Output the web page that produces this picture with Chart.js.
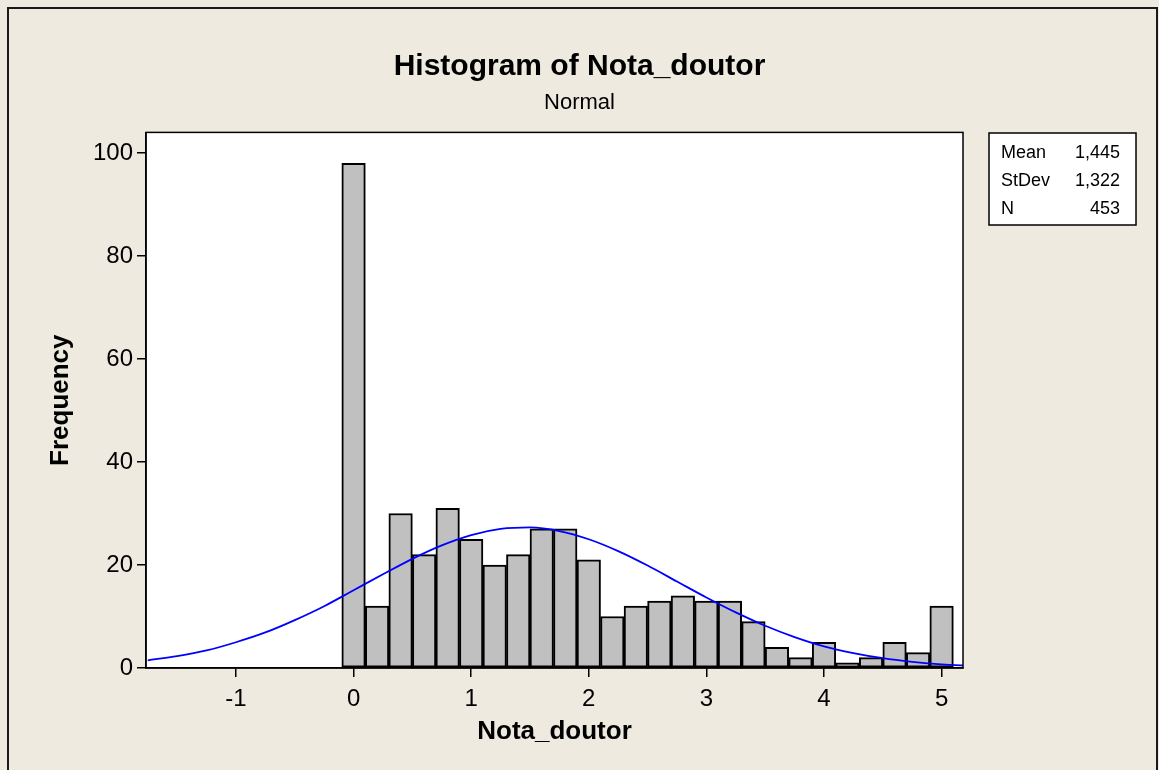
<!DOCTYPE html>
<html>
<head>
<meta charset="utf-8">
<title>Histogram of Nota_doutor</title>
<script src="https://cdn.jsdelivr.net/npm/chart.js@4/dist/chart.umd.min.js"></script>
<style>
  html, body { margin: 0; padding: 0; background: #EEEAE0; }
  #wrap { width: 1159px; height: 770px; }
</style>
</head>
<body>
<div id="wrap"><canvas id="myChart" width="1159" height="770"></canvas></div>
<script>
// histogram bins (width 0.2), counts
const binCenters = [0, 0.2, 0.4, 0.6, 0.8, 1.0, 1.2, 1.4, 1.6, 1.8, 2.0, 2.2, 2.4,
    2.6, 2.8, 3.0, 3.2, 3.4, 3.6, 3.8, 4.0, 4.2, 4.4, 4.6, 4.8, 5.0];
const frequencies = [98, 12, 30, 22, 31, 25, 20, 22, 27, 27, 21, 10, 12,
    13, 14, 13, 13, 9, 4, 2, 5, 1, 2, 5, 3, 12];

// fitted normal curve, read at 0.25 steps
const curveX = [-1.75, -1.5, -1.25, -1, -0.75, -0.5, -0.25, 0, 0.25, 0.5, 0.75, 1, 1.25,
    1.5, 1.75, 2, 2.25, 2.5, 2.75, 3, 3.25, 3.5, 3.75, 4, 4.25, 4.5, 4.75, 5, 5.25];
const curveY = [1.5, 2.3, 3.4, 5.0, 6.9, 9.3, 12.0, 15.1, 18.2, 21.2, 23.8, 25.8, 27.0,
    27.3, 26.6, 25.0, 22.7, 19.9, 16.8, 13.7, 10.8, 8.2, 6.0, 4.2, 2.9, 1.9, 1.2, 0.7, 0.45];

const xTicks = [-1, 0, 1, 2, 3, 4, 5];
const yTicks = [0, 20, 40, 60, 80, 100];

const statLabels = ['Mean', 'StDev', 'N'];
const statValues = ['1,445', '1,322', '453'];

const FONT = '"Liberation Sans", Arial, sans-serif';
const BG = '#EEEAE0';

const framePlugin = {
    id: 'frame',
    beforeDraw(chart) {
        const ctx = chart.ctx;
        const a = chart.chartArea;
        ctx.save();
        ctx.fillStyle = BG;
        ctx.fillRect(0, 0, chart.width, chart.height);
        // outer frame
        ctx.strokeStyle = '#1a1a1a';
        ctx.lineWidth = 2;
        ctx.beginPath();
        ctx.moveTo(8, chart.height + 5);
        ctx.lineTo(8, 8);
        ctx.lineTo(1157, 8);
        ctx.lineTo(1157, chart.height + 5);
        ctx.stroke();
        ctx.fillStyle = '#ffffff';
        ctx.fillRect(a.left, a.top, a.right - a.left, a.bottom - a.top);
        ctx.restore();
    },
    afterDraw(chart) {
        const ctx = chart.ctx;
        const a = chart.chartArea;
        ctx.save();
        ctx.strokeStyle = '#000';
        ctx.lineWidth = 1.5;
        ctx.strokeRect(a.left, a.top, a.right - a.left, a.bottom - a.top);

        // stats box
        const bx = 989, by = 133, bw = 147, bh = 92;
        ctx.fillStyle = '#ffffff';
        ctx.fillRect(bx, by, bw, bh);
        ctx.strokeRect(bx, by, bw, bh);
        ctx.fillStyle = '#000';
        ctx.font = '18px ' + FONT;
        ctx.textBaseline = 'middle';
        statLabels.forEach((lab, i) => {
            const y = by + 20 + i * 28;
            ctx.textAlign = 'left';
            ctx.fillText(lab, bx + 12, y);
            ctx.textAlign = 'right';
            ctx.fillText(statValues[i], bx + bw - 16, y);
        });
        ctx.restore();
    }
};

const data = {
    datasets: [
        {
            type: 'line',
            label: 'Normal',
            data: curveX.map((x, i) => ({ x: x, y: curveY[i] })),
            borderColor: '#0000FF',
            borderWidth: 1.8,
            pointRadius: 0,
            cubicInterpolationMode: 'monotone',
            order: 0
        },
        {
            type: 'bar',
            label: 'Nota_doutor',
            data: binCenters.map((x, i) => ({ x: x, y: frequencies[i] })),
            backgroundColor: '#C0C0C0',
            borderColor: '#000000',
            borderWidth: 2,
            borderSkipped: false,
            barPercentage: 1.0,
            categoryPercentage: 1.0,
            order: 1
        }
    ]
};

const config = {
    type: 'bar',
    data: data,
    options: {
        responsive: false,
        animation: false,
        layout: { padding: 0 },
        plugins: {
            legend: { display: false },
            tooltip: { enabled: false },
            title: {
                display: true,
                text: 'Histogram of Nota_doutor',
                color: '#000',
                font: { family: FONT, size: 30, weight: 'bold' },
                padding: { top: 49, bottom: 5 }
            },
            subtitle: {
                display: true,
                text: 'Normal',
                color: '#000',
                font: { family: FONT, size: 22 },
                padding: { top: 0, bottom: 16 }
            }
        },
        scales: {
            x: {
                type: 'linear',
                position: 'bottom',
                min: -1.765,
                max: 5.182,
                offset: false,
                afterBuildTicks: s => { s.ticks = xTicks.map(v => ({ value: v })); },
                afterFit: s => { s.height = 102; },
                ticks: {
                    color: '#000',
                    font: { family: FONT, size: 24 },
                    padding: 8,
                    maxRotation: 0,
                    autoSkip: false,
                    callback: v => String(v)
                },
                grid: { offset: false, drawOnChartArea: false, drawTicks: true, tickLength: 9, color: '#000', lineWidth: 1.5 },
                border: { display: true, color: '#000', width: 1.5 },
                title: {
                    display: true,
                    text: 'Nota_doutor',
                    color: '#000',
                    font: { family: FONT, size: 26, weight: 'bold' },
                    padding: { top: 0, bottom: 23 }
                }
            },
            y: {
                type: 'linear',
                min: 0,
                max: 104,
                afterBuildTicks: s => { s.ticks = yTicks.map(v => ({ value: v })); },
                afterFit: s => { s.width = 146; },
                ticks: {
                    color: '#000',
                    font: { family: FONT, size: 24 },
                    padding: 4,
                    callback: v => String(v)
                },
                grid: { drawOnChartArea: false, drawTicks: true, tickLength: 9, color: '#000', lineWidth: 1.5 },
                border: { display: true, color: '#000', width: 1.5 },
                title: {
                    display: true,
                    text: 'Frequency',
                    color: '#000',
                    font: { family: FONT, size: 26, weight: 'bold' },
                    padding: { top: 45, bottom: 0 }
                }
            },
            // empty right-hand axis that only reserves room for the stats box
            side: {
                type: 'linear',
                position: 'right',
                display: true,
                afterFit: s => { s.width = 196; },
                ticks: { display: false },
                grid: { display: false },
                border: { display: false }
            }
        }
    },
    plugins: [framePlugin]
};

const ctx = document.getElementById('myChart').getContext('2d');
new Chart(ctx, config);
</script>
</body>
</html>
